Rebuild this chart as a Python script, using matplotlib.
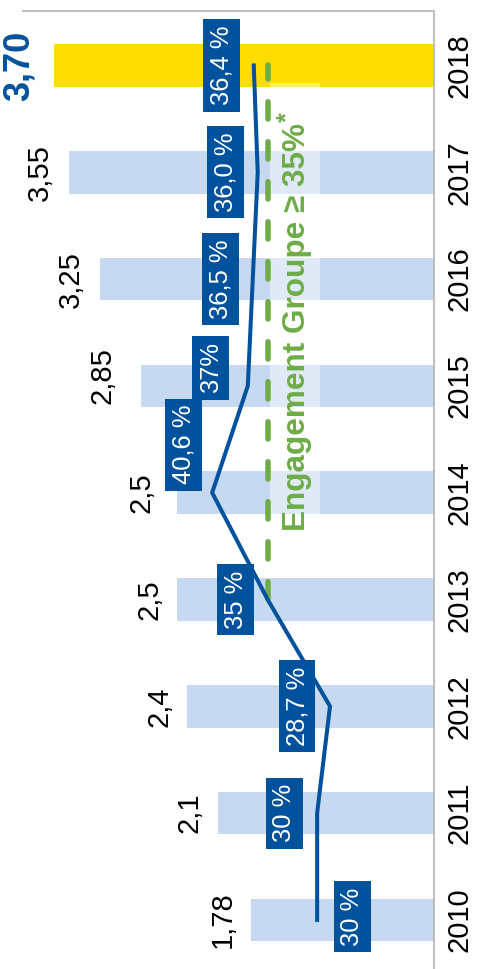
import numpy as np
import matplotlib
matplotlib.use('Agg')
import matplotlib.pyplot as plt
from matplotlib.patches import Rectangle

plt.rcParams['font.family'] = ['Liberation Sans', 'DejaVu Sans']

# data
years = ['2010', '2011', '2012', '2013', '2014', '2015', '2016', '2017', '2018']
values = [1.78, 2.1, 2.4, 2.5, 2.5, 2.85, 3.25, 3.55, 3.70]
valueLabels = ['1,78', '2,1', '2,4', '2,5', '2,5', '2,85', '3,25', '3,55', '3,70']
pct = [30, 30, 28.7, 35, 40.6, 37, 36.5, 36.0, 36.4]
pctLabels = ['30 %', '30 %', '28,7 %', '35 %', '40,6 %', '37%', '36,5 %', '36,0 %', '36,4 %']
target = 35
targetFrom, targetTo = 3, 8
targetText = 'Engagement Groupe \u2265 35%'

# styles / label offsets (pixels)
lightBlue = '#C6D9F0'
yellow = '#FFDD00'
darkBlue = '#00529C'
green = '#6EAC48'
valOffsets = [(-14, 0), (-15, 0), (-14, 0), (-14, 0), (-22, 0), (-25, 10), (-15, 0), (-15, 0), (-17, 0)]
pctOffsets = [(35, 3), (-33, 0), (-33, 0), (-32, 0), (-29, 48), (-37, 18), (-32, 0), (-32, 0), (-32, 0)]

W, H = 478, 969
fig = plt.figure(figsize=(W / 100, H / 100), dpi=100)
ax = fig.add_axes([23 / W, 0, (434 - 23) / W, (H - 11) / H])
y = np.arange(len(years))

colors = [lightBlue] * (len(years) - 1) + [yellow]
ax.barh(y, values, height=0.40, color=colors, zorder=1)
ax.set_xlim(4.0, 0)
ax.set_ylim(-0.46, 8.51)

# translucent box behind the target text
ax.add_patch(Rectangle((1.111, 3.60), 0.487, 4.236, facecolor='white', alpha=0.45,
                       edgecolor='none', zorder=2))

for i in range(len(years)):
    last = i == len(years) - 1
    ax.annotate(valueLabels[i], (values[i], y[i]), xytext=valOffsets[i], textcoords='offset pixels',
                rotation=90, ha='right', va='center',
                fontsize=26 if last else 21, fontweight='bold' if last else 'normal',
                color=darkBlue if last else 'black', zorder=5)

for s in ['left', 'bottom']:
    ax.spines[s].set_visible(False)
for s in ['top', 'right']:
    ax.spines[s].set_color('#BFBFBF')
    ax.spines[s].set_linewidth(1.5)
ax.set_xticks([])
ax.yaxis.tick_right()
ax.set_yticks(y)
ax.set_yticklabels(years, rotation=90, va='center', fontsize=21)
ax.tick_params(axis='y', length=0, pad=8)

# secondary axis for the percentages
ax2 = ax.twiny()
ax2.set_xlim(59.7, 18.2)
ax2.set_ylim(-0.46, 8.51)
ax2.axis('off')
ax2.plot([target, target], [targetFrom, targetTo], color=green, lw=4,
         dashes=(3.1, 4.1), dash_capstyle='round', zorder=3)
ax2.plot(pct, y, color=darkBlue, lw=2.9, zorder=4)

for i in range(len(years)):
    ax2.annotate(pctLabels[i], (pct[i], y[i]), xytext=pctOffsets[i], textcoords='offset pixels',
                 rotation=90, ha='center', va='center', fontsize=18.4, color='white',
                 bbox=dict(boxstyle='square,pad=0.25', fc=darkBlue, ec='none'), zorder=6)

ax2.text(32.0, 5.55, targetText, rotation=90, ha='center', va='center', fontsize=22.7,
         fontweight='bold', color=green, zorder=6)
ax2.text(33.0, 7.52, '*', rotation=90, ha='center', va='center', fontsize=18,
         fontweight='bold', color=green, zorder=6)

fig.savefig('out.png', dpi=100)
